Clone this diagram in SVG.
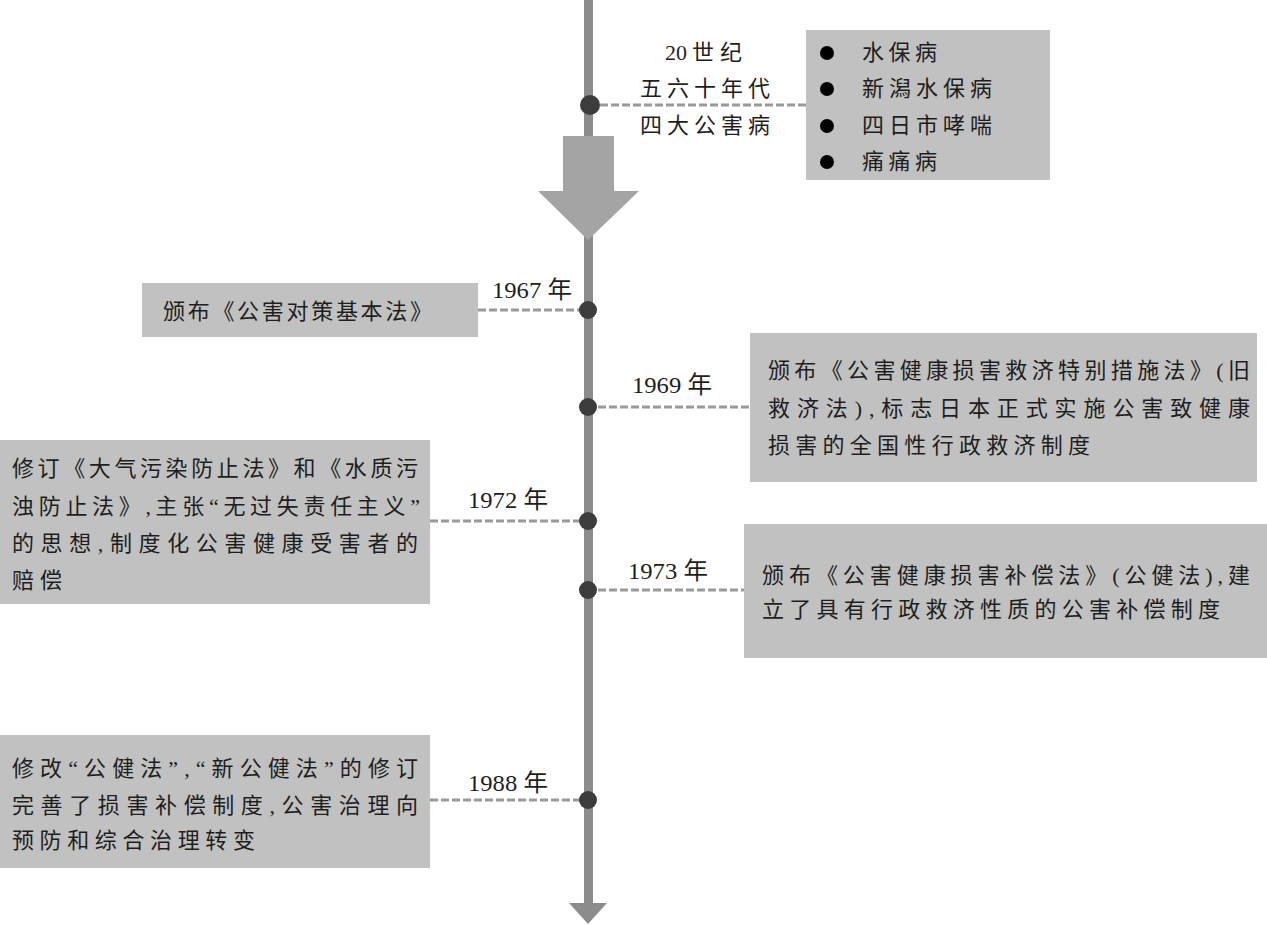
<svg xmlns="http://www.w3.org/2000/svg" width="1267" height="925" viewBox="0 0 1267 925">
<style>
.box{fill:#c1c1c1}
.t{font-family:"Liberation Serif","Noto Sans CJK SC",serif;font-size:22px;fill:#1e1e1e}
.y{font-family:"Liberation Serif","Noto Sans CJK SC",serif;font-size:24px;fill:#1e1e1e}
.dash{stroke:#9a9a9a;stroke-width:3;stroke-dasharray:8 3;fill:none}
.dot{fill:#3c3c3c}
.bul{fill:#000}
</style>
<rect width="1267" height="925" fill="#fff"/>
<g id="timeline">
<rect x="584" y="0" width="9" height="905" fill="#8c8c8c"/>
<polygon points="569,903 607,903 588,924" fill="#8c8c8c"/>
<polygon points="563,136 614,136 614,191 639,191 588,240 538,191 563,191" fill="#a4a4a4"/>
</g>
<g id="connectors">
<line class="dash" x1="600" y1="105" x2="806" y2="105"/>
<line class="dash" x1="478" y1="310" x2="580" y2="310"/>
<line class="dash" x1="598" y1="407" x2="750" y2="407"/>
<line class="dash" x1="430" y1="521" x2="580" y2="521"/>
<line class="dash" x1="598" y1="590" x2="744" y2="590"/>
<line class="dash" x1="430" y1="800" x2="580" y2="800"/>
</g>
<g id="dots">
<circle class="dot" cx="590" cy="105" r="10"/>
<circle class="dot" cx="588" cy="310" r="9"/>
<circle class="dot" cx="588" cy="407" r="9"/>
<circle class="dot" cx="588" cy="521" r="9"/>
<circle class="dot" cx="588" cy="590" r="9"/>
<circle class="dot" cx="588" cy="800" r="9"/>
</g>
<g id="node-1950s">
<text class="t" x="665" y="60">20<tspan dx="5">世</tspan><tspan dx="6">纪</tspan></text>
<text class="t" x="640" y="96" textLength="130" lengthAdjust="spacing">五六十年代</text>
<text class="t" x="640" y="133" textLength="130" lengthAdjust="spacing">四大公害病</text>
<rect class="box" x="806" y="30" width="244" height="150"/>
<circle class="bul" cx="827" cy="53" r="7"/>
<circle class="bul" cx="827" cy="89" r="7"/>
<circle class="bul" cx="827" cy="126" r="7"/>
<circle class="bul" cx="827" cy="162" r="7"/>
<text class="t" x="862" y="60" textLength="75" lengthAdjust="spacing">水保病</text>
<text class="t" x="862" y="96" textLength="130" lengthAdjust="spacing">新潟水保病</text>
<text class="t" x="862" y="133" textLength="130" lengthAdjust="spacing">四日市哮喘</text>
<text class="t" x="862" y="169" textLength="75" lengthAdjust="spacing">痛痛病</text>
</g>
<g id="node-1967">
<text class="y" x="492" y="298" textLength="80" lengthAdjust="spacingAndGlyphs">1967 年</text>
<rect class="box" x="142" y="283" width="336" height="54"/>
<text class="t" x="163" y="319" textLength="269" lengthAdjust="spacing">颁布《公害对策基本法》</text>
</g>
<g id="node-1969">
<text class="y" x="632" y="393" textLength="80" lengthAdjust="spacingAndGlyphs">1969 年</text>
<rect class="box" x="750" y="333" width="507" height="149"/>
<text class="t" x="768" y="378" textLength="482" lengthAdjust="spacing">颁布《公害健康损害救济特别措施法》(旧</text>
<text class="t" x="768" y="416" textLength="482" lengthAdjust="spacing">救济法),标志日本正式实施公害致健康</text>
<text class="t" x="768" y="453" textLength="322" lengthAdjust="spacing">损害的全国性行政救济制度</text>
</g>
<g id="node-1972">
<text class="y" x="468" y="508" textLength="80" lengthAdjust="spacingAndGlyphs">1972 年</text>
<rect class="box" x="0" y="440" width="430" height="164"/>
<text class="t" x="12" y="476" textLength="406" lengthAdjust="spacing">修订《大气污染防止法》和《水质污</text>
<text class="t" x="12" y="514" textLength="408" lengthAdjust="spacing">浊防止法》,主张“无过失责任主义”</text>
<text class="t" x="12" y="551" textLength="406" lengthAdjust="spacing">的思想,制度化公害健康受害者的</text>
<text class="t" x="12" y="588" textLength="50" lengthAdjust="spacing">赔偿</text>
</g>
<g id="node-1973">
<text class="y" x="628" y="579" textLength="80" lengthAdjust="spacingAndGlyphs">1973 年</text>
<rect class="box" x="744" y="524" width="523" height="134"/>
<text class="t" x="762" y="583" textLength="488" lengthAdjust="spacing">颁布《公害健康损害补偿法》(公健法),建</text>
<text class="t" x="762" y="617" textLength="458" lengthAdjust="spacing">立了具有行政救济性质的公害补偿制度</text>
</g>
<g id="node-1988">
<text class="y" x="468" y="791" textLength="80" lengthAdjust="spacingAndGlyphs">1988 年</text>
<rect class="box" x="0" y="735" width="430" height="133"/>
<text class="t" x="12" y="776" textLength="406" lengthAdjust="spacing">修改“公健法”,“新公健法”的修订</text>
<text class="t" x="12" y="813" textLength="406" lengthAdjust="spacing">完善了损害补偿制度,公害治理向</text>
<text class="t" x="12" y="848" textLength="243" lengthAdjust="spacing">预防和综合治理转变</text>
</g>
</svg>
